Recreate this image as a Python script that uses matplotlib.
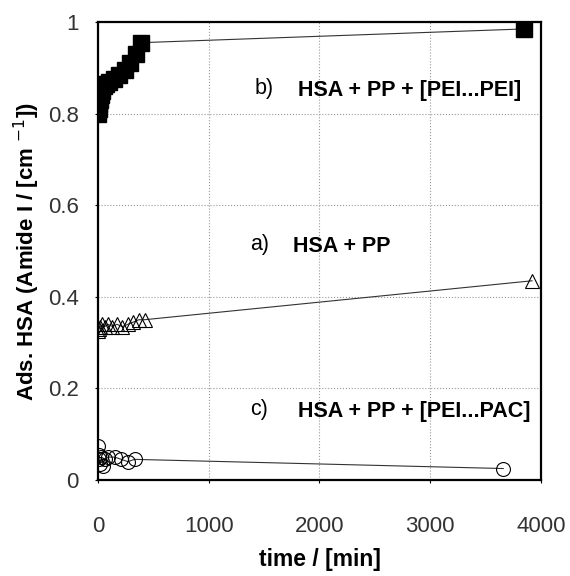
import matplotlib
matplotlib.use("Agg")
import matplotlib.pyplot as plt

plt.rcParams['font.family'] = ['Liberation Sans', 'DejaVu Sans']

# b) HSA + PP + [PEI...PEI]  (filled squares)
t_b = [0, 5, 10, 15, 25, 35, 50, 70, 100, 140, 190, 240, 290, 340, 390, 3850]
y_b = [0.80, 0.81, 0.82, 0.83, 0.84, 0.85, 0.86, 0.865, 0.87, 0.875, 0.885, 0.895,
       0.91, 0.93, 0.955, 0.985]

# a) HSA + PP  (open triangles)
t_a = [0, 10, 20, 40, 60, 90, 130, 170, 220, 270, 320, 370, 420, 3920]
y_a = [0.325, 0.33, 0.335, 0.34, 0.335, 0.34, 0.335, 0.34, 0.335, 0.34, 0.345, 0.35, 0.35, 0.435]

# c) HSA + PP + [PEI...PAC]  (open circles)
t_c = [0, 5, 10, 20, 30, 45, 60, 90, 150, 210, 270, 330, 3660]
y_c = [0.075, 0.055, 0.045, 0.035, 0.05, 0.03, 0.045, 0.05, 0.05, 0.045, 0.04, 0.045, 0.025]

fig = plt.figure(figsize=(5.7, 5.76), dpi=100)
ax = fig.add_axes([0.172, 0.1667, 0.777, 0.795])

ax.plot(t_b, y_b, '-', color='#333333', lw=0.8, marker='s', ms=11, mfc='black', mec='black')
ax.plot(t_a, y_a, '-', color='#333333', lw=0.8, marker='^', ms=10, mfc='none', mec='black', mew=0.8)
ax.plot(t_c, y_c, '-', color='#333333', lw=0.8, marker='o', ms=10, mfc='none', mec='black', mew=0.8)

ax.set_xlim(0, 4000)
ax.set_ylim(0, 1)
ax.set_xticks([0, 1000, 2000, 3000, 4000])
ax.set_yticks([0, 0.2, 0.4, 0.6, 0.8, 1])
ax.set_yticklabels(['0', '0.2', '0.4', '0.6', '0.8', '1'])
ax.grid(True, color='#999999', ls=':', lw=0.8)
ax.tick_params(direction='out', length=2, labelsize=16, labelcolor='#333333')
ax.tick_params(axis='x', pad=24)
ax.tick_params(axis='y', pad=12)
for s in ax.spines.values():
    s.set_linewidth(1.6)

ax.set_xlabel('time / [min]', fontsize=16.5, fontweight='bold', labelpad=8)
ax.set_ylabel('Ads. HSA (Amide I / [cm $^{-1}$])', fontsize=16, fontweight='bold', labelpad=4)

ax.text(1410, 0.855, 'b)', fontsize=15.5, va='center')
ax.text(1806, 0.85, 'HSA + PP + [PEI...PEI]', fontsize=15.5, fontweight='bold', va='center')
ax.text(1370, 0.515, 'a)', fontsize=15.5, va='center')
ax.text(1760, 0.51, 'HSA + PP', fontsize=15.5, fontweight='bold', va='center')
ax.text(1370, 0.155, 'c)', fontsize=15.5, va='center')
ax.text(1806, 0.15, 'HSA + PP + [PEI...PAC]', fontsize=15.5, fontweight='bold', va='center')

fig.savefig('out.png', dpi=100)
